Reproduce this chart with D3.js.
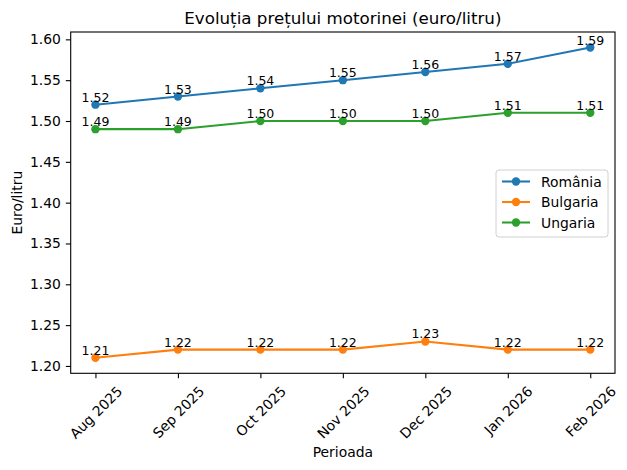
<!DOCTYPE html>
<html><head><meta charset="utf-8">
<script src="https://cdn.jsdelivr.net/npm/d3@7"></script>
<style>body{margin:0;background:#fff}svg{font-family:"DejaVu Sans",sans-serif}</style>
</head><body>
<svg id="c" width="627" height="470"></svg>
<script>
const categories = ["Aug 2025","Sep 2025","Oct 2025","Nov 2025","Dec 2025","Jan 2026","Feb 2026"];
const romania = [1.52,1.53,1.54,1.55,1.56,1.57,1.59];
const bulgaria = [1.21,1.22,1.22,1.22,1.23,1.22,1.22];
const ungaria = [1.49,1.49,1.50,1.50,1.50,1.51,1.51];
const yTicks = [1.20,1.25,1.30,1.35,1.40,1.45,1.50,1.55,1.60];
const seriesNames = ["România","Bulgaria","Ungaria"];
const colors = ["#1f77b4","#ff7f0e","#2ca02c"];
const series = [romania,bulgaria,ungaria];

const svg = d3.select("#c");
const L=70.7,R=615,T=32,B=373.3;
const x = d3.scaleLinear().domain([-0.3,6.3]).range([L,R]);
const all = series.flat();
const mn=d3.min(all), mx=d3.max(all), pad=(mx-mn)*0.05;
const y = d3.scaleLinear().domain([mn-pad,mx+pad]).range([B,T]);

// axes
const yAxis = d3.axisLeft(y).tickValues(yTicks).tickFormat(d3.format(".2f")).tickSize(4.9).tickPadding(4.9);
const gy = svg.append("g").attr("transform",`translate(${L},0)`).call(yAxis);
const xAxis = d3.axisBottom(x).tickValues(d3.range(categories.length)).tickFormat(i=>categories[i]).tickSize(4.9).tickPadding(4.9);
const gx = svg.append("g").attr("transform",`translate(0,${B})`).call(xAxis);
[gx,gy].forEach(g=>{g.select(".domain").remove();g.selectAll("line").attr("stroke","#000").attr("stroke-width",1.1);g.selectAll("text").attr("font-size",13.9).attr("fill","#000").attr("font-family","DejaVu Sans");});
gx.selectAll("text").each(function(){
  const t=d3.select(this);
  t.attr("text-anchor","middle").attr("dy",null).attr("y",0).attr("dominant-baseline","central");
  const w=this.getComputedTextLength(), h=16;
  const bh=(w+h)/Math.SQRT2;
  t.attr("transform",`translate(0,${9.8+bh/2}) rotate(-45)`);
});
svg.append("rect").attr("x",L).attr("y",T).attr("width",R-L).attr("height",B-T).attr("fill","none").attr("stroke","#000").attr("stroke-width",1.1);

// lines
const line = d3.line().x((d,i)=>x(i)).y(d=>y(d));
series.forEach((s,k)=>{
  svg.append("path").datum(s).attr("d",line).attr("fill","none").attr("stroke",colors[k]).attr("stroke-width",2.08);
  svg.selectAll(null).data(s).enter().append("circle").attr("cx",(d,i)=>x(i)).attr("cy",d=>y(d)).attr("r",4.2).attr("fill",colors[k]);
});
series.forEach((s,k)=>{
  svg.selectAll(null).data(s).enter().append("text").attr("x",(d,i)=>x(i)).attr("y",d=>y(d)-3)
    .attr("text-anchor","middle").attr("font-size",12.5).attr("fill","#000").text(d=>d.toFixed(2));
});

// titles
svg.append("text").attr("x",(L+R)/2).attr("y",24).attr("text-anchor","middle").attr("font-size",16.7).text("Evoluția prețului motorinei (euro/litru)");
svg.append("text").attr("x",(L+R)/2).attr("y",457).attr("text-anchor","middle").attr("font-size",13.9).text("Perioada");
svg.append("text").attr("transform",`translate(22,${(T+B)/2}) rotate(-90)`).attr("text-anchor","middle").attr("font-size",13.9).text("Euro/litru");

// legend
const lg = svg.append("g");
lg.append("rect").attr("x",496).attr("y",170).attr("width",112).attr("height",67).attr("rx",3).attr("fill","#fff").attr("fill-opacity",0.8).attr("stroke","#d0d0d0");
seriesNames.forEach((n,k)=>{
  const yy=181.5+k*20.5;
  lg.append("line").attr("x1",502).attr("x2",530).attr("y1",yy).attr("y2",yy).attr("stroke",colors[k]).attr("stroke-width",2.08);
  lg.append("circle").attr("cx",516).attr("cy",yy).attr("r",4.2).attr("fill",colors[k]);
  lg.append("text").attr("x",541).attr("y",yy+5).attr("font-size",13.9).text(n);
});
</script>
</body></html>
